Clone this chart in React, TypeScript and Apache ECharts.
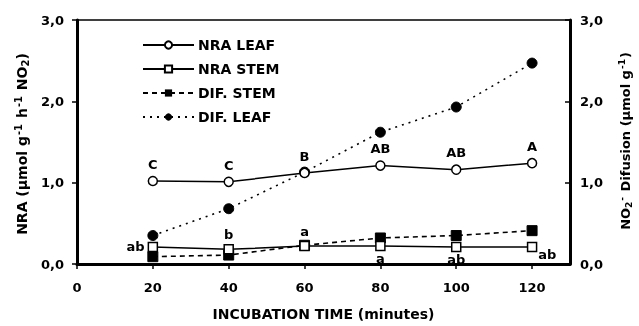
import React, { useEffect, useRef } from "react";
import * as echarts from "echarts";

const times = [20, 40, 60, 80, 100, 120];
const nraLeaf = [1.02, 1.01, 1.12, 1.21, 1.16, 1.24];
const nraStem = [0.21, 0.18, 0.22, 0.22, 0.21, 0.21];
const difStem = [0.09, 0.11, 0.23, 0.32, 0.35, 0.41];
const difLeaf = [0.35, 0.68, 1.13, 1.62, 1.93, 2.47];
const leafLetters = ["C", "C", "B", "AB", "AB", "A"];
const stemLetters = ["ab", "b", "a", "a", "ab", "ab"];
const xTicks = [0, 20, 40, 60, 80, 100, 120];
const yTicks = [0, 1, 2, 3];
const leftTitle = "NRA (µmol g{sup|-1} h{sup|-1} NO{sub|2})";
const rightTitle = "NO{sub|2}{sup|-} Difusion (µmol g{sup|-1})";

const FONT = "DejaVu Sans, sans-serif";

export default function App() {
  const ref = useRef<HTMLDivElement>(null);
  useEffect(() => {
    if (!ref.current) return;
    const chart = echarts.init(ref.current, undefined, { renderer: "svg" });
    const stemPos = ["left", "top", "top", "bottom", "bottom", "right"];
    const stemOffset = [[0, 0], [0, 0], [0, 0], [0, -2], [0, -2], [-2, 8]];
    const fmt = (v: number) => v.toFixed(1).replace(".", ",");
    const mkRich = (s: number) => ({
      sup: { fontSize: s, fontWeight: "bold", fontFamily: FONT, fill: "#000", padding: [0, 1, 7, 1] },
      sub: { fontSize: s, fontWeight: "bold", fontFamily: FONT, fill: "#000", padding: [7, 0, 0, 0] },
    });
    const titleStyle = (text: string, size: number, supSize: number) => ({
      text,
      fill: "#000",
      fontFamily: FONT,
      fontWeight: "bold",
      fontSize: size,
      align: "center",
      verticalAlign: "middle",
      rich: mkRich(supSize),
    });
    const yAxisBase = {
      type: "value",
      min: 0,
      max: 3,
      interval: 1,
      splitLine: { show: false },
      axisLine: { show: true, lineStyle: { color: "#000", width: 3 } },
      axisLabel: {
        formatter: fmt,
        color: "#000",
        fontFamily: FONT,
        fontWeight: "bold",
        fontSize: 13,
      },
    };
    chart.setOption({
      animation: false,
      grid: {
        left: 77,
        right: 69,
        top: 20,
        bottom: 58,
        show: true,
        borderColor: "#000",
        borderWidth: 1.5,
        containLabel: false,
      },
      legend: {
        orient: "vertical",
        left: 137,
        top: 32,
        itemWidth: 51,
        itemHeight: 9,
        itemGap: 8,
        textStyle: { color: "#000", fontFamily: FONT, fontWeight: "bold", fontSize: 14, lineHeight: 16, padding: [0, 0, 0, -1] },
        data: ["NRA LEAF", "NRA STEM", "DIF. STEM", "DIF. LEAF"],
      },
      graphic: [
        { type: "text", x: 22, y: 144, rotation: Math.PI / 2, style: titleStyle(leftTitle, 14, 10) },
        { type: "text", x: 625, y: 141, rotation: Math.PI / 2, style: titleStyle(rightTitle, 13, 9) },
      ],
      xAxis: {
        type: "value",
        min: 0,
        max: 130,
        interval: 20,
        splitLine: { show: false },
        axisLine: { lineStyle: { color: "#000", width: 3 } },
        axisTick: { show: true, length: 5, lineStyle: { color: "#000", width: 1.5 }, customValues: xTicks },
        axisLabel: {
          customValues: xTicks,
          color: "#000",
          fontFamily: FONT,
          fontWeight: "bold",
          fontSize: 13,
          margin: 17,
        },
        name: "INCUBATION TIME (minutes)",
        nameLocation: "middle",
        nameGap: 43,
        nameTextStyle: { color: "#000", fontFamily: FONT, fontWeight: "bold", fontSize: 14 },
      },
      yAxis: [
        {
          ...yAxisBase,
          position: "left",
          axisTick: { show: true, inside: false, length: 5, lineStyle: { color: "#000", width: 1.5 }, customValues: yTicks },
          axisLabel: { ...yAxisBase.axisLabel, margin: 13 },
        },
        {
          ...yAxisBase,
          position: "right",
          axisTick: { show: true, inside: true, length: 5, lineStyle: { color: "#000", width: 1.5 }, customValues: yTicks },
          axisLabel: { ...yAxisBase.axisLabel, margin: 10 },
        },
      ],
      series: [
        {
          name: "NRA LEAF",
          type: "line",
          yAxisIndex: 0,
          symbol: "circle",
          symbolSize: 9,
          lineStyle: { color: "#000", width: 1.5, type: "solid" },
          itemStyle: { color: "#fff", borderColor: "#000", borderWidth: 1.5 },
          data: times.map((t, i) => ({
            value: [t, nraLeaf[i]],
            label: {
              show: true,
              position: "top",
              distance: 5,
              formatter: leafLetters[i],
              color: "#000",
              fontFamily: FONT,
              fontWeight: "bold",
              fontSize: 13,
            },
          })),
          z: 4,
        },
        {
          name: "NRA STEM",
          type: "line",
          yAxisIndex: 0,
          symbol: "rect",
          symbolSize: 9,
          lineStyle: { color: "#000", width: 1.5, type: "solid" },
          itemStyle: { color: "#fff", borderColor: "#000", borderWidth: 1.5 },
          data: times.map((t, i) => ({
            value: [t, nraStem[i]],
            label: {
              show: true,
              position: stemPos[i],
              offset: stemOffset[i],
              distance: 3,
              formatter: stemLetters[i],
              color: "#000",
              fontFamily: FONT,
              fontWeight: "bold",
              fontSize: 13,
            },
          })),
          z: 5,
        },
        {
          name: "DIF. STEM",
          type: "line",
          yAxisIndex: 1,
          symbol: "rect",
          symbolSize: 10,
          lineStyle: { color: "#000", width: 1.6, type: [5, 4] },
          itemStyle: { color: "#000", borderColor: "#000" },
          data: times.map((t, i) => [t, difStem[i]]),
          z: 3,
        },
        {
          name: "DIF. LEAF",
          type: "line",
          yAxisIndex: 1,
          symbol: "circle",
          symbolSize: 10,
          lineStyle: { color: "#000", width: 1.6, type: [2, 5] },
          itemStyle: { color: "#000", borderColor: "#000" },
          data: times.map((t, i) => [t, difLeaf[i]]),
          z: 3,
        },
      ],
    });
    return () => chart.dispose();
  }, []);
  return <div ref={ref} style={{ width: 639, height: 326, position: "fixed", left: 0, top: 0 }} />;
}
